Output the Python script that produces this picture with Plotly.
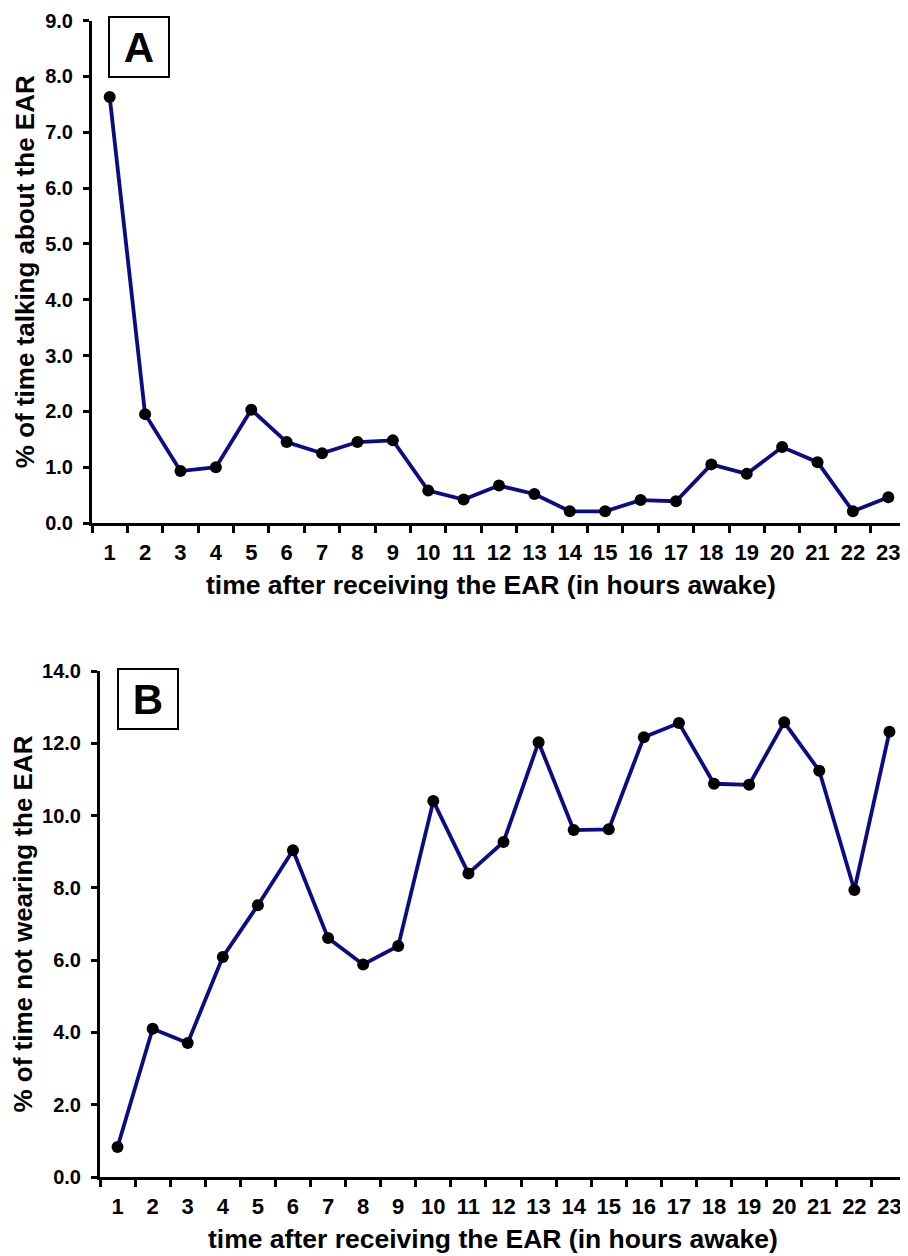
import plotly.graph_objects as go

hours = [str(h) for h in range(1, 24)]
talking_pct = [7.63, 1.95, 0.93, 1.00, 2.03, 1.45, 1.25, 1.45, 1.48, 0.58, 0.42, 0.67,
               0.52, 0.21, 0.21, 0.41, 0.39, 1.05, 0.88, 1.36, 1.09, 0.21, 0.46]
not_wearing_pct = [0.83, 4.10, 3.71, 6.09, 7.52, 9.04, 6.61, 5.88, 6.39, 10.40, 8.40, 9.27,
                   12.03, 9.60, 9.62, 12.17, 12.56, 10.88, 10.85, 12.58, 11.24, 7.94, 12.32]
ytick_a = [0, 1, 2, 3, 4, 5, 6, 7, 8, 9]
ytick_b = [0, 2, 4, 6, 8, 10, 12, 14]
x_title = "time after receiving the EAR (in hours awake)"

FONT = "Arial, Liberation Sans, sans-serif"
LINE = "#0b0b84"

fig = go.Figure()
fig.add_trace(go.Scatter(x=hours, y=talking_pct, mode="lines+markers",
                         line=dict(color=LINE, width=3.8),
                         marker=dict(color="black", size=12),
                         xaxis="x", yaxis="y", showlegend=False))
fig.add_trace(go.Scatter(x=hours, y=not_wearing_pct, mode="lines+markers",
                         line=dict(color=LINE, width=3.8),
                         marker=dict(color="black", size=12),
                         xaxis="x2", yaxis="y2", showlegend=False))

W, H = 908, 1256
OFF = 8  # page body margin offset


def px(v):
    return (v - OFF) / W


def py(v):
    return 1 - (v - OFF) / H


def xax(domain, anchor):
    return dict(domain=domain, anchor=anchor, type="category",
                categoryorder="array", categoryarray=hours,
                range=[-0.5, len(hours) - 0.5], automargin=False,
                tickson="boundaries", ticks="outside", ticklen=7, tickwidth=3,
                tickcolor="black", showline=True, linewidth=3, linecolor="black",
                showgrid=False, zeroline=False, tickangle=0, ticklabelstandoff=8,
                ticklabeloverflow="allow",
                tickfont=dict(family=FONT, size=22, color="black", weight="bold"))


def yax(domain, anchor, rng, tv, title):
    return dict(domain=domain, anchor=anchor, range=rng, tickvals=tv, automargin=False,
                tickformat=".1f", ticks="outside", ticklen=6, tickwidth=3,
                tickcolor="black", showline=True, linewidth=3, linecolor="black",
                showgrid=False, zeroline=False, ticklabelstandoff=6,
                ticklabeloverflow="allow",
                tickfont=dict(family=FONT, size=20, color="black", weight="bold"),
                title=dict(text=title,
                           font=dict(family=FONT, size=26, color="black", weight="bold"),
                           standoff=4))


fig.update_layout(
    width=W, height=H,
    margin=dict(l=0, r=0, t=0, b=0),
    paper_bgcolor="white", plot_bgcolor="white",
    xaxis=xax([px(92), px(906)], "y"),
    yaxis=yax([py(523), py(20.5)], "x", [0, 9], ytick_a,
              "% of time talking about the EAR"),
    xaxis2=xax([px(100), px(907)], "y2"),
    yaxis2=yax([py(1177), py(671)], "x2", [0, 14], ytick_b,
               "% of time not wearing the EAR"),
)

for cx, cy in [(491.5, 585), (493.5, 1239)]:
    fig.add_annotation(text=x_title, xref="paper", yref="paper",
                       x=px(cx), y=py(cy), xanchor="center", yanchor="middle",
                       showarrow=False,
                       font=dict(family=FONT, size=26.5, color="black", weight="bold"))

for label, cx, cy in [("A", 138.5, 46.5), ("B", 148, 698.5)]:
    fig.add_annotation(text="<b>%s</b>" % label, xref="paper", yref="paper",
                       x=px(cx), y=py(cy), xanchor="center", yanchor="middle",
                       showarrow=False, width=56, height=56, borderpad=1,
                       bordercolor="black", borderwidth=2, bgcolor="white",
                       font=dict(family=FONT, size=42, color="black"))

fig.write_html("out.html")
